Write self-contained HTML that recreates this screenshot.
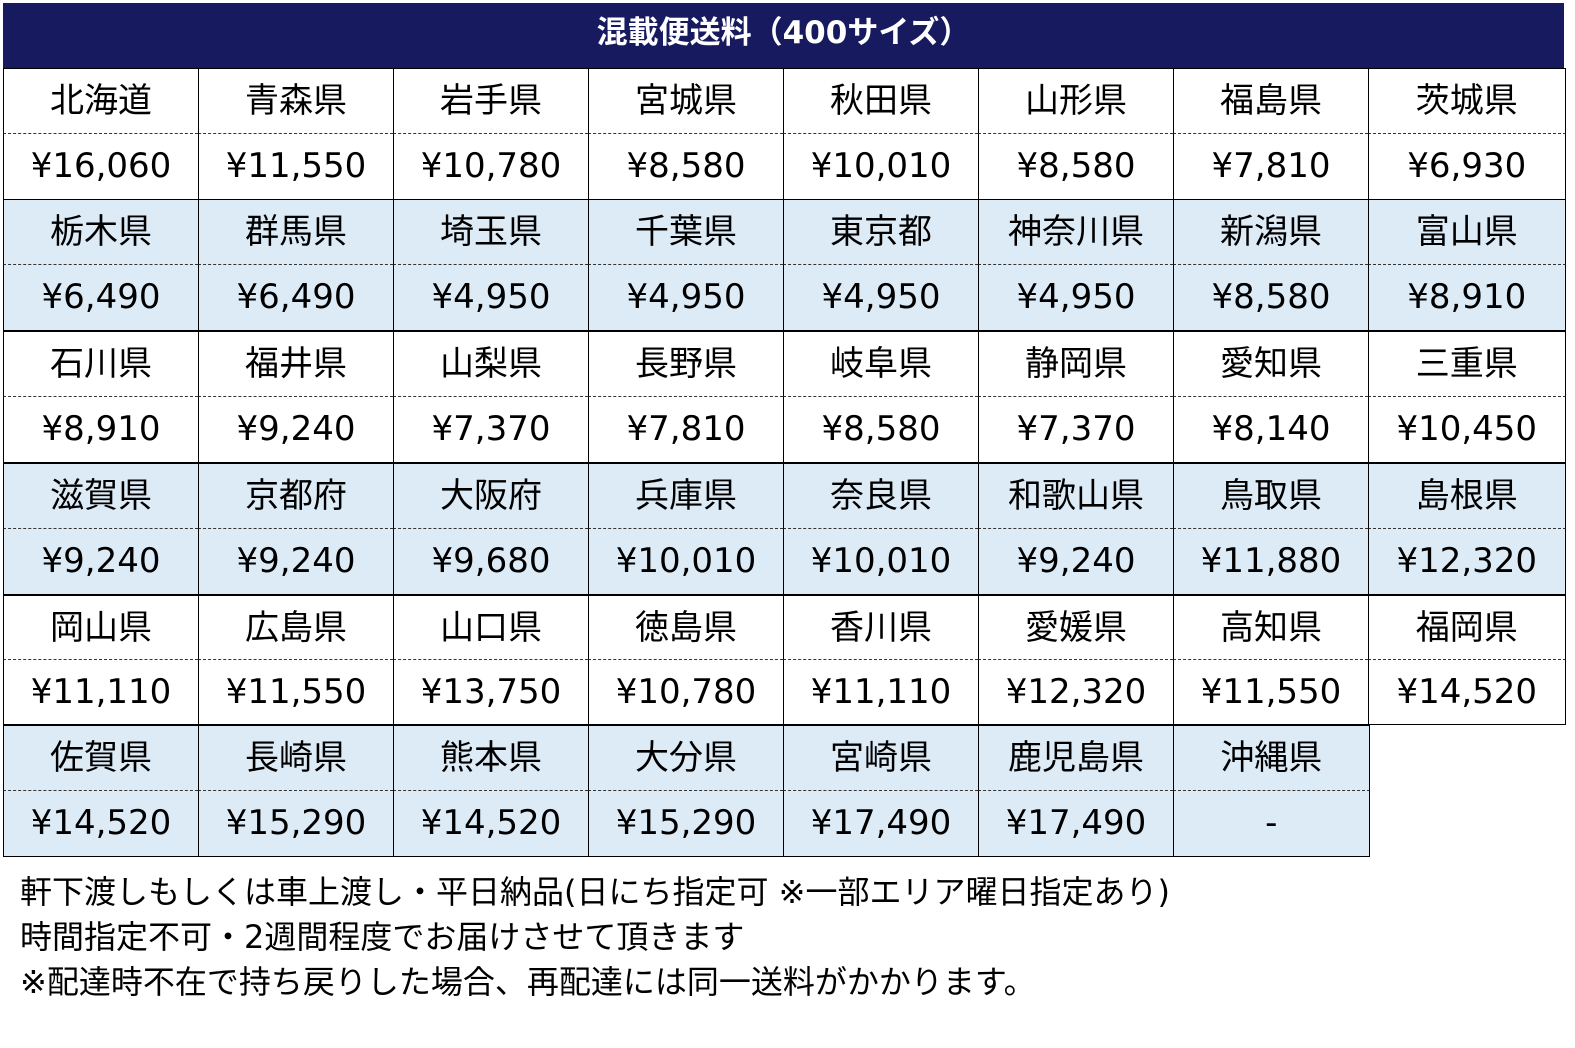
<!DOCTYPE html>
<html style="overflow:hidden"><head><meta charset="utf-8"><style>
*{margin:0;padding:0;box-sizing:border-box}
html,body{width:1575px;height:1048px;overflow:hidden}
body{background:#fff;position:relative;font-family:"DejaVu Sans","Noto Sans CJK JP",sans-serif;color:#000}
.h{position:absolute;left:3px;top:3px;width:1561px;height:65px;background:#171A5E;color:#fff;font-weight:bold;font-size:31px;text-align:center;line-height:60px}
.c{position:absolute;line-height:64px;text-align:center;font-size:34px;border-left:1.5px solid #000}
.n{border-top:1.5px solid #000;border-bottom:1px dashed #333}
.p{border-bottom:1.5px solid #000}
.b{background:#DDEBF7}
.f{position:absolute;left:20px;font-size:32px;line-height:34px;white-space:nowrap}
</style></head><body>
<div class="h">混載便送料（400サイズ）</div>
<div id="t"></div>
<div class="f" style="top:875px">軒下渡しもしくは車上渡し・平日納品(日にち指定可 ※一部エリア曜日指定あり)</div>
<div class="f" style="top:920px">時間指定不可・2週間程度でお届けさせて頂きます</div>
<div class="f" style="top:965px">※配達時不在で持ち戻りした場合、再配達には同一送料がかかります。</div>
<script>
var d=[
["北海道","¥16,060","青森県","¥11,550","岩手県","¥10,780","宮城県","¥8,580","秋田県","¥10,010","山形県","¥8,580","福島県","¥7,810","茨城県","¥6,930"],
["栃木県","¥6,490","群馬県","¥6,490","埼玉県","¥4,950","千葉県","¥4,950","東京都","¥4,950","神奈川県","¥4,950","新潟県","¥8,580","富山県","¥8,910"],
["石川県","¥8,910","福井県","¥9,240","山梨県","¥7,370","長野県","¥7,810","岐阜県","¥8,580","静岡県","¥7,370","愛知県","¥8,140","三重県","¥10,450"],
["滋賀県","¥9,240","京都府","¥9,240","大阪府","¥9,680","兵庫県","¥10,010","奈良県","¥10,010","和歌山県","¥9,240","鳥取県","¥11,880","島根県","¥12,320"],
["岡山県","¥11,110","広島県","¥11,550","山口県","¥13,750","徳島県","¥10,780","香川県","¥11,110","愛媛県","¥12,320","高知県","¥11,550","福岡県","¥14,520"],
["佐賀県","¥14,520","長崎県","¥15,290","熊本県","¥14,520","大分県","¥15,290","宮崎県","¥17,490","鹿児島県","¥17,490","沖縄県","-"]
];
var xs=[3,198,393,588,783,978,1173,1368,1564],ys=[68,199,331,463,595,725],h='';
for(var r=0;r<6;r++){var row=d[r],n=row.length/2;for(var i=0;i<n;i++){var x=xs[i],w=xs[i+1]-xs[i],y=ys[r],b=r%2?' b':'';var hh=(r==4?65:66);
var rb=(i==n-1)?'border-right:1.5px solid #000;':'';
if(i==n-1)w+=1.5;
h+='<div class="c n'+b+'" style="'+rb+'left:'+x+'px;top:'+y+'px;width:'+w+'px;height:'+hh+'px">'+row[2*i]+'</div>';
h+='<div class="c p'+b+'" style="'+rb+'left:'+x+'px;top:'+(y+hh)+'px;width:'+w+'px;height:'+hh+'px">'+row[2*i+1]+'</div>';}}
document.getElementById('t').innerHTML=h;
</script>
</body></html>
